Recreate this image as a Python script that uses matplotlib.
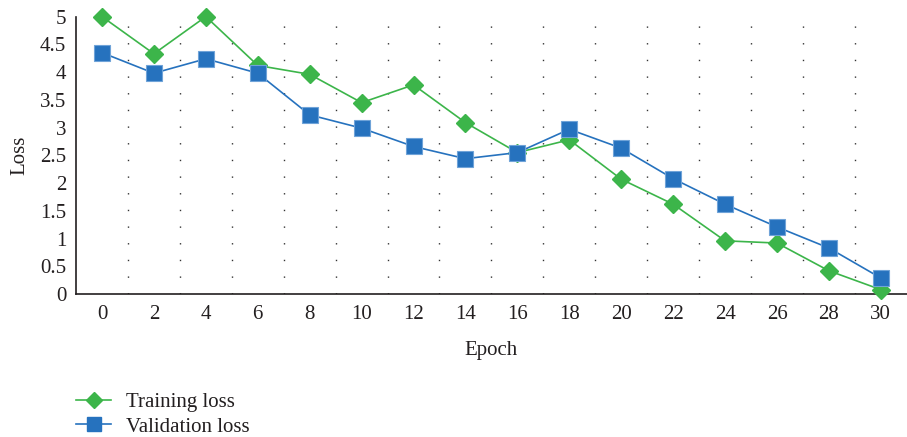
import numpy as np
import matplotlib
matplotlib.use('Agg')
import matplotlib.pyplot as plt
from matplotlib.lines import Line2D

plt.rcParams['font.family'] = ['Liberation Serif', 'DejaVu Serif']

epochs = [0, 2, 4, 6, 8, 10, 12, 14, 16, 18, 20, 22, 24, 26, 28, 30]
train_loss = [5.0, 4.33, 5.0, 4.12, 3.96, 3.45, 3.77, 3.09, 2.55, 2.78,
              2.07, 1.62, 0.96, 0.92, 0.42, 0.08]
val_loss = [4.35, 3.98, 4.24, 3.98, 3.23, 2.99, 2.66, 2.44, 2.55, 2.97,
            2.63, 2.08, 1.62, 1.21, 0.83, 0.29]

green = '#3cb54a'
blue = '#2672be'
ink = '#231f20'

fig = plt.figure(figsize=(9.07, 4.37), dpi=100)
ax = fig.add_axes([0.0838, 0.327, 0.916, 0.635])

x = np.arange(len(epochs))
ax.plot(x, train_loss, color=green, lw=1.2, marker='D', ms=9,
        markeredgecolor=green, zorder=3, clip_on=False)
ax.plot(x, val_loss, color=blue, lw=1.2, marker='s', ms=11,
        markeredgecolor='#6fa3d8', markeredgewidth=0.8, zorder=4, clip_on=False)

# dotted separators between categories
for b in x[:-1] + 0.5:
    ax.axvline(b, color='#333333', ls=(0, (1, 11)), lw=1.0, zorder=1)

ax.set_xlim(-0.5, len(epochs) - 0.5)
ax.set_ylim(0, 5)
ax.set_xticks(x)
ax.set_xticklabels([str(e) for e in epochs])
ax.set_yticks(np.arange(0, 5.01, 0.5))
ax.set_yticklabels(['0', '0.5', '1', '1.5', '2', '2.5', '3', '3.5', '4', '4.5', '5'])
ax.tick_params(length=0, labelsize=15, colors=ink, pad=8)
ax.tick_params(axis='y', pad=7)
for s in ['top', 'right']:
    ax.spines[s].set_visible(False)
for s in ['left', 'bottom']:
    ax.spines[s].set_color(ink)
    ax.spines[s].set_linewidth(1.2)

ax.set_xlabel('Epoch', fontsize=15, color=ink, labelpad=12)
ax.set_ylabel('Loss', fontsize=15, color=ink, labelpad=8)

handles = [Line2D([], [], color=green, marker='D', ms=8, lw=1.2),
           Line2D([], [], color=blue, marker='s', ms=10, lw=1.2)]
fig.legend(handles, ['Training loss', 'Validation loss'], loc='lower left',
           bbox_to_anchor=(0.063, -0.042), frameon=False, fontsize=15,
           handlelength=1.7, labelspacing=0.25, handletextpad=0.72,
           labelcolor=ink)

plt.savefig('out.png', dpi=100)
